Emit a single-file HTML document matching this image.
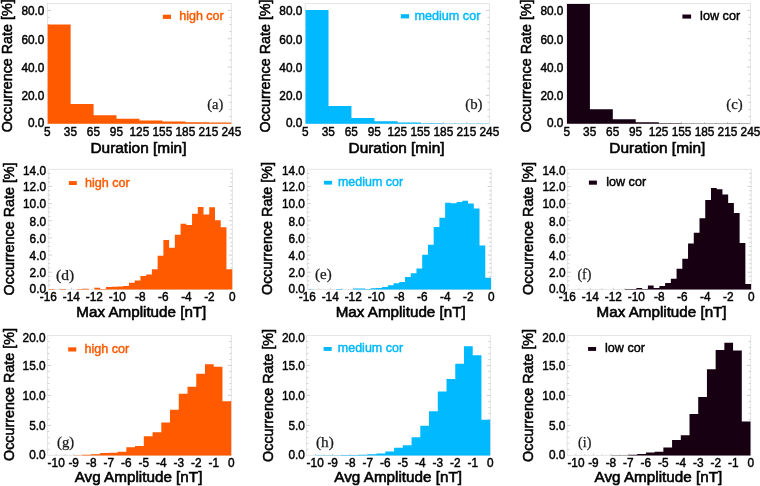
<!DOCTYPE html>
<html><head><meta charset="utf-8"><title>Histograms</title><style>
html,body{margin:0;padding:0;background:#fff;}
body{width:760px;height:486px;overflow:hidden;}
#wrap{will-change:transform;width:760px;height:486px;}
svg{display:block;}
text{font-family:"Liberation Sans",sans-serif;fill:#000;}
.tk{font-size:12.6px;stroke:#000;stroke-width:0.45px;}
.tt{font-size:15.2px;stroke:#000;stroke-width:0.6px;}
.yt{font-size:15.2px;stroke:#000;stroke-width:0.55px;}
.lg{font-size:13.0px;stroke-width:0.45px;}
.pl{font-family:"Liberation Serif",serif;font-size:14.0px;fill:#1a1a1a;stroke:#1a1a1a;stroke-width:0.25px;}
</style></head><body><div id="wrap">
<svg width="760" height="486" viewBox="0 0 760 486">
<rect x="0" y="0" width="760" height="486" fill="#fff"/>
<g id="chart-a">
<rect x="47.40" y="3.50" width="184.00" height="120.15" fill="none" stroke="#e5e5e5" stroke-width="1"/>
<path d="M47.40 116.57h2.00M231.40 116.57h-2.00M47.40 109.49h2.00M231.40 109.49h-2.00M47.40 102.42h2.00M231.40 102.42h-2.00M47.40 95.34h3.60M231.40 95.34h-3.60M47.40 88.26h2.00M231.40 88.26h-2.00M47.40 81.18h2.00M231.40 81.18h-2.00M47.40 74.10h2.00M231.40 74.10h-2.00M47.40 67.03h3.60M231.40 67.03h-3.60M47.40 59.95h2.00M231.40 59.95h-2.00M47.40 52.87h2.00M231.40 52.87h-2.00M47.40 45.79h2.00M231.40 45.79h-2.00M47.40 38.71h3.60M231.40 38.71h-3.60M47.40 31.64h2.00M231.40 31.64h-2.00M47.40 24.56h2.00M231.40 24.56h-2.00M47.40 17.48h2.00M231.40 17.48h-2.00M47.40 10.40h3.60M231.40 10.40h-3.60M58.90 123.65v-1.20M70.40 123.65v-1.80M81.90 123.65v-1.20M93.40 123.65v-1.80M104.90 123.65v-1.20M116.40 123.65v-1.80M127.90 123.65v-1.20M139.40 123.65v-1.80M150.90 123.65v-1.20M162.40 123.65v-1.80M173.90 123.65v-1.20M185.40 123.65v-1.80M196.90 123.65v-1.20M208.40 123.65v-1.80M219.90 123.65v-1.20" stroke="#cfcfcf" stroke-width="1" fill="none"/>
<path d="M47.70 123.75H70.64V24.56H47.70ZM70.64 123.75H93.58V103.97H70.64ZM93.58 123.75H116.51V115.30H93.58ZM116.51 123.75H139.45V118.84H116.51ZM139.45 123.75H162.39V120.39H139.45ZM162.39 123.75H185.33V121.53H162.39ZM185.33 123.75H208.26V122.23H185.33ZM208.26 123.75H231.20V122.59H208.26Z" fill="#FF5A00"/>
<text x="44.45" y="127.16" text-anchor="end" class="tk" textLength="16.47" lengthAdjust="spacingAndGlyphs">0.0</text>
<text x="44.45" y="100.15" text-anchor="end" class="tk" textLength="23.05" lengthAdjust="spacingAndGlyphs">20.0</text>
<text x="44.45" y="71.84" text-anchor="end" class="tk" textLength="23.05" lengthAdjust="spacingAndGlyphs">40.0</text>
<text x="44.45" y="43.52" text-anchor="end" class="tk" textLength="23.05" lengthAdjust="spacingAndGlyphs">60.0</text>
<text x="44.45" y="15.21" text-anchor="end" class="tk" textLength="23.05" lengthAdjust="spacingAndGlyphs">80.0</text>
<text x="47.40" y="135.80" text-anchor="middle" class="tk" textLength="6.59" lengthAdjust="spacingAndGlyphs">5</text>
<text x="70.40" y="135.80" text-anchor="middle" class="tk" textLength="13.17" lengthAdjust="spacingAndGlyphs">35</text>
<text x="93.40" y="135.80" text-anchor="middle" class="tk" textLength="13.17" lengthAdjust="spacingAndGlyphs">65</text>
<text x="116.40" y="135.80" text-anchor="middle" class="tk" textLength="13.17" lengthAdjust="spacingAndGlyphs">95</text>
<text x="139.40" y="135.80" text-anchor="middle" class="tk" textLength="19.76" lengthAdjust="spacingAndGlyphs">125</text>
<text x="162.40" y="135.80" text-anchor="middle" class="tk" textLength="19.76" lengthAdjust="spacingAndGlyphs">155</text>
<text x="185.40" y="135.80" text-anchor="middle" class="tk" textLength="19.76" lengthAdjust="spacingAndGlyphs">185</text>
<text x="208.40" y="135.80" text-anchor="middle" class="tk" textLength="19.76" lengthAdjust="spacingAndGlyphs">215</text>
<text x="231.40" y="135.80" text-anchor="middle" class="tk" textLength="19.76" lengthAdjust="spacingAndGlyphs">245</text>
<text x="138.45" y="152.60" text-anchor="middle" class="tt" textLength="96.0" lengthAdjust="spacingAndGlyphs">Duration [min]</text>
<text transform="translate(11.90 132.30) rotate(-90)" x="0" y="0" class="yt" textLength="133.0" lengthAdjust="spacingAndGlyphs">Occurrence Rate [%]</text>
<rect x="162.90" y="14.70" width="8.10" height="4.20" fill="#FF5A00"/>
<text x="179.20" y="19.70" class="lg" style="fill:#FF5A00;stroke:#FF5A00" textLength="44.5" lengthAdjust="spacingAndGlyphs">high cor</text>
<text x="207.30" y="108.70" class="pl" textLength="16.04" lengthAdjust="spacingAndGlyphs">(a)</text>
</g>
<g id="chart-b">
<rect x="305.25" y="3.50" width="184.15" height="120.15" fill="none" stroke="#e5e5e5" stroke-width="1"/>
<path d="M305.25 116.57h2.00M489.40 116.57h-2.00M305.25 109.49h2.00M489.40 109.49h-2.00M305.25 102.42h2.00M489.40 102.42h-2.00M305.25 95.34h3.60M489.40 95.34h-3.60M305.25 88.26h2.00M489.40 88.26h-2.00M305.25 81.18h2.00M489.40 81.18h-2.00M305.25 74.10h2.00M489.40 74.10h-2.00M305.25 67.03h3.60M489.40 67.03h-3.60M305.25 59.95h2.00M489.40 59.95h-2.00M305.25 52.87h2.00M489.40 52.87h-2.00M305.25 45.79h2.00M489.40 45.79h-2.00M305.25 38.71h3.60M489.40 38.71h-3.60M305.25 31.64h2.00M489.40 31.64h-2.00M305.25 24.56h2.00M489.40 24.56h-2.00M305.25 17.48h2.00M489.40 17.48h-2.00M305.25 10.40h3.60M489.40 10.40h-3.60M316.76 123.65v-1.20M328.27 123.65v-1.80M339.78 123.65v-1.20M351.29 123.65v-1.80M362.80 123.65v-1.20M374.31 123.65v-1.80M385.82 123.65v-1.20M397.32 123.65v-1.80M408.83 123.65v-1.20M420.34 123.65v-1.80M431.85 123.65v-1.20M443.36 123.65v-1.80M454.87 123.65v-1.20M466.38 123.65v-1.80M477.89 123.65v-1.20" stroke="#cfcfcf" stroke-width="1" fill="none"/>
<path d="M305.55 123.75H328.51V10.12H305.55ZM328.51 123.75H351.46V106.10H328.51ZM351.46 123.75H374.42V117.99H351.46ZM374.42 123.75H397.38V121.31H374.42ZM397.38 123.75H420.33V122.45H397.38ZM420.33 123.75H443.29V123.30H420.33ZM443.29 123.75H466.24V123.44H443.29ZM466.24 123.75H489.20V123.51H466.24Z" fill="#00B9FF"/>
<text x="302.35" y="127.16" text-anchor="end" class="tk" textLength="16.47" lengthAdjust="spacingAndGlyphs">0.0</text>
<text x="302.35" y="100.15" text-anchor="end" class="tk" textLength="23.05" lengthAdjust="spacingAndGlyphs">20.0</text>
<text x="302.35" y="71.84" text-anchor="end" class="tk" textLength="23.05" lengthAdjust="spacingAndGlyphs">40.0</text>
<text x="302.35" y="43.52" text-anchor="end" class="tk" textLength="23.05" lengthAdjust="spacingAndGlyphs">60.0</text>
<text x="302.35" y="15.21" text-anchor="end" class="tk" textLength="23.05" lengthAdjust="spacingAndGlyphs">80.0</text>
<text x="305.25" y="135.80" text-anchor="middle" class="tk" textLength="6.59" lengthAdjust="spacingAndGlyphs">5</text>
<text x="328.27" y="135.80" text-anchor="middle" class="tk" textLength="13.17" lengthAdjust="spacingAndGlyphs">35</text>
<text x="351.29" y="135.80" text-anchor="middle" class="tk" textLength="13.17" lengthAdjust="spacingAndGlyphs">65</text>
<text x="374.31" y="135.80" text-anchor="middle" class="tk" textLength="13.17" lengthAdjust="spacingAndGlyphs">95</text>
<text x="397.32" y="135.80" text-anchor="middle" class="tk" textLength="19.76" lengthAdjust="spacingAndGlyphs">125</text>
<text x="420.34" y="135.80" text-anchor="middle" class="tk" textLength="19.76" lengthAdjust="spacingAndGlyphs">155</text>
<text x="443.36" y="135.80" text-anchor="middle" class="tk" textLength="19.76" lengthAdjust="spacingAndGlyphs">185</text>
<text x="466.38" y="135.80" text-anchor="middle" class="tk" textLength="19.76" lengthAdjust="spacingAndGlyphs">215</text>
<text x="489.40" y="135.80" text-anchor="middle" class="tk" textLength="19.76" lengthAdjust="spacingAndGlyphs">245</text>
<text x="396.50" y="152.60" text-anchor="middle" class="tt" textLength="96.0" lengthAdjust="spacingAndGlyphs">Duration [min]</text>
<text transform="translate(269.50 132.40) rotate(-90)" x="0" y="0" class="yt" textLength="133.0" lengthAdjust="spacingAndGlyphs">Occurrence Rate [%]</text>
<rect x="400.80" y="14.20" width="8.30" height="4.20" fill="#00B9FF"/>
<text x="414.50" y="19.50" class="lg" style="fill:#00B9FF;stroke:#00B9FF" textLength="65.9" lengthAdjust="spacingAndGlyphs">medium cor</text>
<text x="465.30" y="108.80" class="pl" textLength="17.24" lengthAdjust="spacingAndGlyphs">(b)</text>
</g>
<g id="chart-c">
<rect x="566.70" y="3.50" width="183.75" height="120.15" fill="none" stroke="#e5e5e5" stroke-width="1"/>
<path d="M566.70 116.57h2.00M750.45 116.57h-2.00M566.70 109.49h2.00M750.45 109.49h-2.00M566.70 102.42h2.00M750.45 102.42h-2.00M566.70 95.34h3.60M750.45 95.34h-3.60M566.70 88.26h2.00M750.45 88.26h-2.00M566.70 81.18h2.00M750.45 81.18h-2.00M566.70 74.10h2.00M750.45 74.10h-2.00M566.70 67.03h3.60M750.45 67.03h-3.60M566.70 59.95h2.00M750.45 59.95h-2.00M566.70 52.87h2.00M750.45 52.87h-2.00M566.70 45.79h2.00M750.45 45.79h-2.00M566.70 38.71h3.60M750.45 38.71h-3.60M566.70 31.64h2.00M750.45 31.64h-2.00M566.70 24.56h2.00M750.45 24.56h-2.00M566.70 17.48h2.00M750.45 17.48h-2.00M566.70 10.40h3.60M750.45 10.40h-3.60M578.18 123.65v-1.20M589.67 123.65v-1.80M601.15 123.65v-1.20M612.64 123.65v-1.80M624.12 123.65v-1.20M635.61 123.65v-1.80M647.09 123.65v-1.20M658.58 123.65v-1.80M670.06 123.65v-1.20M681.54 123.65v-1.80M693.03 123.65v-1.20M704.51 123.65v-1.80M716.00 123.65v-1.20M727.48 123.65v-1.80M738.97 123.65v-1.20" stroke="#cfcfcf" stroke-width="1" fill="none"/>
<path d="M567.00 123.75H589.91V4.00H567.00ZM589.91 123.75H612.81V109.21H589.91ZM612.81 123.75H635.72V119.19H612.81ZM635.72 123.75H658.62V122.23H635.72ZM658.62 123.75H681.53V123.30H658.62ZM681.53 123.75H704.44V123.58H681.53ZM704.44 123.75H727.34V123.61H704.44ZM727.34 123.75H750.25V123.62H727.34Z" fill="#170012"/>
<text x="563.45" y="127.16" text-anchor="end" class="tk" textLength="16.47" lengthAdjust="spacingAndGlyphs">0.0</text>
<text x="563.45" y="100.15" text-anchor="end" class="tk" textLength="23.05" lengthAdjust="spacingAndGlyphs">20.0</text>
<text x="563.45" y="71.84" text-anchor="end" class="tk" textLength="23.05" lengthAdjust="spacingAndGlyphs">40.0</text>
<text x="563.45" y="43.52" text-anchor="end" class="tk" textLength="23.05" lengthAdjust="spacingAndGlyphs">60.0</text>
<text x="563.45" y="15.21" text-anchor="end" class="tk" textLength="23.05" lengthAdjust="spacingAndGlyphs">80.0</text>
<text x="566.70" y="135.80" text-anchor="middle" class="tk" textLength="6.59" lengthAdjust="spacingAndGlyphs">5</text>
<text x="589.67" y="135.80" text-anchor="middle" class="tk" textLength="13.17" lengthAdjust="spacingAndGlyphs">35</text>
<text x="612.64" y="135.80" text-anchor="middle" class="tk" textLength="13.17" lengthAdjust="spacingAndGlyphs">65</text>
<text x="635.61" y="135.80" text-anchor="middle" class="tk" textLength="13.17" lengthAdjust="spacingAndGlyphs">95</text>
<text x="658.58" y="135.80" text-anchor="middle" class="tk" textLength="19.76" lengthAdjust="spacingAndGlyphs">125</text>
<text x="681.54" y="135.80" text-anchor="middle" class="tk" textLength="19.76" lengthAdjust="spacingAndGlyphs">155</text>
<text x="704.51" y="135.80" text-anchor="middle" class="tk" textLength="19.76" lengthAdjust="spacingAndGlyphs">185</text>
<text x="727.48" y="135.80" text-anchor="middle" class="tk" textLength="19.76" lengthAdjust="spacingAndGlyphs">215</text>
<text x="750.45" y="135.80" text-anchor="middle" class="tk" textLength="19.76" lengthAdjust="spacingAndGlyphs">245</text>
<text x="657.30" y="152.60" text-anchor="middle" class="tt" textLength="96.0" lengthAdjust="spacingAndGlyphs">Duration [min]</text>
<text transform="translate(530.70 132.40) rotate(-90)" x="0" y="0" class="yt" textLength="133.0" lengthAdjust="spacingAndGlyphs">Occurrence Rate [%]</text>
<rect x="682.40" y="14.50" width="8.70" height="4.10" fill="#170012"/>
<text x="700.10" y="20.00" class="lg" style="fill:#000;stroke:#000" textLength="40.1" lengthAdjust="spacingAndGlyphs">low cor</text>
<text x="726.30" y="108.65" class="pl" textLength="16.54" lengthAdjust="spacingAndGlyphs">(c)</text>
</g>
<g id="chart-d">
<rect x="48.35" y="169.30" width="184.05" height="120.10" fill="none" stroke="#e5e5e5" stroke-width="1"/>
<path d="M48.35 285.11h2.00M232.40 285.11h-2.00M48.35 280.82h2.00M232.40 280.82h-2.00M48.35 276.53h2.00M232.40 276.53h-2.00M48.35 272.24h3.60M232.40 272.24h-3.60M48.35 267.95h2.00M232.40 267.95h-2.00M48.35 263.66h2.00M232.40 263.66h-2.00M48.35 259.38h2.00M232.40 259.38h-2.00M48.35 255.09h3.60M232.40 255.09h-3.60M48.35 250.80h2.00M232.40 250.80h-2.00M48.35 246.51h2.00M232.40 246.51h-2.00M48.35 242.22h2.00M232.40 242.22h-2.00M48.35 237.93h3.60M232.40 237.93h-3.60M48.35 233.64h2.00M232.40 233.64h-2.00M48.35 229.35h2.00M232.40 229.35h-2.00M48.35 225.06h2.00M232.40 225.06h-2.00M48.35 220.77h3.60M232.40 220.77h-3.60M48.35 216.48h2.00M232.40 216.48h-2.00M48.35 212.19h2.00M232.40 212.19h-2.00M48.35 207.90h2.00M232.40 207.90h-2.00M48.35 203.61h3.60M232.40 203.61h-3.60M48.35 199.32h2.00M232.40 199.32h-2.00M48.35 195.04h2.00M232.40 195.04h-2.00M48.35 190.75h2.00M232.40 190.75h-2.00M48.35 186.46h3.60M232.40 186.46h-3.60M48.35 182.17h2.00M232.40 182.17h-2.00M48.35 177.88h2.00M232.40 177.88h-2.00M48.35 173.59h2.00M232.40 173.59h-2.00M59.85 289.40v-1.20M71.36 289.40v-1.80M82.86 289.40v-1.20M94.36 289.40v-1.80M105.87 289.40v-1.20M117.37 289.40v-1.80M128.87 289.40v-1.20M140.38 289.40v-1.80M151.88 289.40v-1.20M163.38 289.40v-1.80M174.88 289.40v-1.20M186.39 289.40v-1.80M197.89 289.40v-1.20M209.39 289.40v-1.80M220.90 289.40v-1.20" stroke="#cfcfcf" stroke-width="1" fill="none"/>
<path d="M48.65 289.50H54.39V288.97H48.65ZM60.12 289.50H65.86V288.97H60.12ZM77.33 289.50H83.07V288.97H77.33ZM83.07 289.50H88.80V288.71H83.07ZM94.54 289.50H100.27V287.86H94.54ZM100.27 289.50H106.01V288.89H100.27ZM106.01 289.50H111.75V287.08H106.01ZM111.75 289.50H117.48V286.83H111.75ZM117.48 289.50H123.22V286.48H117.48ZM123.22 289.50H128.95V285.97H123.22ZM128.95 289.50H134.69V282.71H128.95ZM134.69 289.50H140.43V280.56H134.69ZM140.43 289.50H146.16V275.93H140.43ZM146.16 289.50H151.90V274.47H146.16ZM151.90 289.50H157.63V269.24H151.90ZM157.63 289.50H163.37V255.69H157.63ZM163.37 289.50H169.10V239.90H163.37ZM169.10 289.50H174.84V247.79H169.10ZM174.84 289.50H180.58V234.84H174.84ZM180.58 289.50H186.31V223.69H180.58ZM186.31 289.50H192.05V225.06H186.31ZM192.05 289.50H197.78V213.74H192.05ZM197.78 289.50H203.52V206.96H197.78ZM203.52 289.50H209.26V214.51H203.52ZM209.26 289.50H214.99V207.13H209.26ZM214.99 289.50H220.73V220.34H214.99ZM220.73 289.50H226.46V227.21H220.73ZM226.46 289.50H232.20V269.24H226.46Z" fill="#FF5A00"/>
<text x="46.05" y="292.91" text-anchor="end" class="tk" textLength="16.47" lengthAdjust="spacingAndGlyphs">0.0</text>
<text x="46.05" y="277.05" text-anchor="end" class="tk" textLength="16.47" lengthAdjust="spacingAndGlyphs">2.0</text>
<text x="46.05" y="259.90" text-anchor="end" class="tk" textLength="16.47" lengthAdjust="spacingAndGlyphs">4.0</text>
<text x="46.05" y="242.74" text-anchor="end" class="tk" textLength="16.47" lengthAdjust="spacingAndGlyphs">6.0</text>
<text x="46.05" y="225.58" text-anchor="end" class="tk" textLength="16.47" lengthAdjust="spacingAndGlyphs">8.0</text>
<text x="46.05" y="208.43" text-anchor="end" class="tk" textLength="23.05" lengthAdjust="spacingAndGlyphs">10.0</text>
<text x="46.05" y="191.27" text-anchor="end" class="tk" textLength="23.05" lengthAdjust="spacingAndGlyphs">12.0</text>
<text x="46.05" y="175.31" text-anchor="end" class="tk" textLength="23.05" lengthAdjust="spacingAndGlyphs">14.0</text>
<text x="48.35" y="300.50" text-anchor="middle" class="tk" textLength="17.12" lengthAdjust="spacingAndGlyphs">-16</text>
<text x="71.36" y="300.50" text-anchor="middle" class="tk" textLength="17.12" lengthAdjust="spacingAndGlyphs">-14</text>
<text x="94.36" y="300.50" text-anchor="middle" class="tk" textLength="17.12" lengthAdjust="spacingAndGlyphs">-12</text>
<text x="117.37" y="300.50" text-anchor="middle" class="tk" textLength="17.12" lengthAdjust="spacingAndGlyphs">-10</text>
<text x="140.38" y="300.50" text-anchor="middle" class="tk" textLength="10.53" lengthAdjust="spacingAndGlyphs">-8</text>
<text x="163.38" y="300.50" text-anchor="middle" class="tk" textLength="10.53" lengthAdjust="spacingAndGlyphs">-6</text>
<text x="186.39" y="300.50" text-anchor="middle" class="tk" textLength="10.53" lengthAdjust="spacingAndGlyphs">-4</text>
<text x="209.39" y="300.50" text-anchor="middle" class="tk" textLength="10.53" lengthAdjust="spacingAndGlyphs">-2</text>
<text x="232.40" y="300.50" text-anchor="middle" class="tk" textLength="6.59" lengthAdjust="spacingAndGlyphs">0</text>
<text x="141.35" y="316.60" text-anchor="middle" class="tt" textLength="130.0" lengthAdjust="spacingAndGlyphs">Max Amplitude [nT]</text>
<text transform="translate(13.60 295.40) rotate(-90)" x="0" y="0" class="yt" textLength="133.0" lengthAdjust="spacingAndGlyphs">Occurrence Rate [%]</text>
<rect x="68.90" y="181.10" width="7.90" height="3.90" fill="#FF5A00"/>
<text x="85.10" y="186.50" class="lg" style="fill:#FF5A00;stroke:#FF5A00" textLength="44.7" lengthAdjust="spacingAndGlyphs">high cor</text>
<text x="56.00" y="279.95" class="pl" textLength="18.14" lengthAdjust="spacingAndGlyphs">(d)</text>
</g>
<g id="chart-e">
<rect x="307.25" y="169.30" width="183.95" height="120.10" fill="none" stroke="#e5e5e5" stroke-width="1"/>
<path d="M307.25 285.11h2.00M491.20 285.11h-2.00M307.25 280.82h2.00M491.20 280.82h-2.00M307.25 276.53h2.00M491.20 276.53h-2.00M307.25 272.24h3.60M491.20 272.24h-3.60M307.25 267.95h2.00M491.20 267.95h-2.00M307.25 263.66h2.00M491.20 263.66h-2.00M307.25 259.38h2.00M491.20 259.38h-2.00M307.25 255.09h3.60M491.20 255.09h-3.60M307.25 250.80h2.00M491.20 250.80h-2.00M307.25 246.51h2.00M491.20 246.51h-2.00M307.25 242.22h2.00M491.20 242.22h-2.00M307.25 237.93h3.60M491.20 237.93h-3.60M307.25 233.64h2.00M491.20 233.64h-2.00M307.25 229.35h2.00M491.20 229.35h-2.00M307.25 225.06h2.00M491.20 225.06h-2.00M307.25 220.77h3.60M491.20 220.77h-3.60M307.25 216.48h2.00M491.20 216.48h-2.00M307.25 212.19h2.00M491.20 212.19h-2.00M307.25 207.90h2.00M491.20 207.90h-2.00M307.25 203.61h3.60M491.20 203.61h-3.60M307.25 199.32h2.00M491.20 199.32h-2.00M307.25 195.04h2.00M491.20 195.04h-2.00M307.25 190.75h2.00M491.20 190.75h-2.00M307.25 186.46h3.60M491.20 186.46h-3.60M307.25 182.17h2.00M491.20 182.17h-2.00M307.25 177.88h2.00M491.20 177.88h-2.00M307.25 173.59h2.00M491.20 173.59h-2.00M318.75 289.40v-1.20M330.24 289.40v-1.80M341.74 289.40v-1.20M353.24 289.40v-1.80M364.73 289.40v-1.20M376.23 289.40v-1.80M387.73 289.40v-1.20M399.23 289.40v-1.80M410.72 289.40v-1.20M422.22 289.40v-1.80M433.72 289.40v-1.20M445.21 289.40v-1.80M456.71 289.40v-1.20M468.21 289.40v-1.80M479.70 289.40v-1.20" stroke="#cfcfcf" stroke-width="1" fill="none"/>
<path d="M307.55 289.50H313.28V289.23H307.55ZM336.21 289.50H341.95V288.97H336.21ZM353.41 289.50H359.15V288.54H353.41ZM359.15 289.50H364.88V288.54H359.15ZM364.88 289.50H370.61V288.97H364.88ZM370.61 289.50H376.34V288.37H370.61ZM376.34 289.50H382.08V288.11H376.34ZM382.08 289.50H387.81V287.08H382.08ZM387.81 289.50H393.54V285.37H387.81ZM393.54 289.50H399.27V283.31H393.54ZM399.27 289.50H405.01V281.94H399.27ZM405.01 289.50H410.74V277.05H405.01ZM410.74 289.50H416.47V273.19H410.74ZM416.47 289.50H422.21V268.55H416.47ZM422.21 289.50H427.94V254.83H422.21ZM427.94 289.50H433.67V244.79H427.94ZM433.67 289.50H439.40V226.95H433.67ZM439.40 289.50H445.14V217.77H439.40ZM445.14 289.50H450.87V202.76H445.14ZM450.87 289.50H456.60V203.19H450.87ZM456.60 289.50H462.34V201.90H456.60ZM462.34 289.50H468.07V200.78H462.34ZM468.07 289.50H473.80V203.61H468.07ZM473.80 289.50H479.53V208.59H473.80ZM479.53 289.50H485.27V245.48H479.53ZM485.27 289.50H491.00V277.65H485.27Z" fill="#00B9FF"/>
<text x="304.95" y="292.91" text-anchor="end" class="tk" textLength="16.47" lengthAdjust="spacingAndGlyphs">0.0</text>
<text x="304.95" y="277.05" text-anchor="end" class="tk" textLength="16.47" lengthAdjust="spacingAndGlyphs">2.0</text>
<text x="304.95" y="259.90" text-anchor="end" class="tk" textLength="16.47" lengthAdjust="spacingAndGlyphs">4.0</text>
<text x="304.95" y="242.74" text-anchor="end" class="tk" textLength="16.47" lengthAdjust="spacingAndGlyphs">6.0</text>
<text x="304.95" y="225.58" text-anchor="end" class="tk" textLength="16.47" lengthAdjust="spacingAndGlyphs">8.0</text>
<text x="304.95" y="208.43" text-anchor="end" class="tk" textLength="23.05" lengthAdjust="spacingAndGlyphs">10.0</text>
<text x="304.95" y="191.27" text-anchor="end" class="tk" textLength="23.05" lengthAdjust="spacingAndGlyphs">12.0</text>
<text x="304.95" y="175.31" text-anchor="end" class="tk" textLength="23.05" lengthAdjust="spacingAndGlyphs">14.0</text>
<text x="307.25" y="300.50" text-anchor="middle" class="tk" textLength="17.12" lengthAdjust="spacingAndGlyphs">-16</text>
<text x="330.24" y="300.50" text-anchor="middle" class="tk" textLength="17.12" lengthAdjust="spacingAndGlyphs">-14</text>
<text x="353.24" y="300.50" text-anchor="middle" class="tk" textLength="17.12" lengthAdjust="spacingAndGlyphs">-12</text>
<text x="376.23" y="300.50" text-anchor="middle" class="tk" textLength="17.12" lengthAdjust="spacingAndGlyphs">-10</text>
<text x="399.23" y="300.50" text-anchor="middle" class="tk" textLength="10.53" lengthAdjust="spacingAndGlyphs">-8</text>
<text x="422.22" y="300.50" text-anchor="middle" class="tk" textLength="10.53" lengthAdjust="spacingAndGlyphs">-6</text>
<text x="445.21" y="300.50" text-anchor="middle" class="tk" textLength="10.53" lengthAdjust="spacingAndGlyphs">-4</text>
<text x="468.21" y="300.50" text-anchor="middle" class="tk" textLength="10.53" lengthAdjust="spacingAndGlyphs">-2</text>
<text x="491.20" y="300.50" text-anchor="middle" class="tk" textLength="6.59" lengthAdjust="spacingAndGlyphs">0</text>
<text x="400.70" y="316.60" text-anchor="middle" class="tt" textLength="130.0" lengthAdjust="spacingAndGlyphs">Max Amplitude [nT]</text>
<text transform="translate(272.40 295.00) rotate(-90)" x="0" y="0" class="yt" textLength="133.0" lengthAdjust="spacingAndGlyphs">Occurrence Rate [%]</text>
<rect x="323.90" y="180.80" width="8.20" height="3.80" fill="#00B9FF"/>
<text x="337.90" y="186.40" class="lg" style="fill:#00B9FF;stroke:#00B9FF" textLength="65.3" lengthAdjust="spacingAndGlyphs">medium cor</text>
<text x="315.10" y="279.25" class="pl" textLength="16.64" lengthAdjust="spacingAndGlyphs">(e)</text>
</g>
<g id="chart-f">
<rect x="567.35" y="169.30" width="183.95" height="120.10" fill="none" stroke="#e5e5e5" stroke-width="1"/>
<path d="M567.35 285.11h2.00M751.30 285.11h-2.00M567.35 280.82h2.00M751.30 280.82h-2.00M567.35 276.53h2.00M751.30 276.53h-2.00M567.35 272.24h3.60M751.30 272.24h-3.60M567.35 267.95h2.00M751.30 267.95h-2.00M567.35 263.66h2.00M751.30 263.66h-2.00M567.35 259.38h2.00M751.30 259.38h-2.00M567.35 255.09h3.60M751.30 255.09h-3.60M567.35 250.80h2.00M751.30 250.80h-2.00M567.35 246.51h2.00M751.30 246.51h-2.00M567.35 242.22h2.00M751.30 242.22h-2.00M567.35 237.93h3.60M751.30 237.93h-3.60M567.35 233.64h2.00M751.30 233.64h-2.00M567.35 229.35h2.00M751.30 229.35h-2.00M567.35 225.06h2.00M751.30 225.06h-2.00M567.35 220.77h3.60M751.30 220.77h-3.60M567.35 216.48h2.00M751.30 216.48h-2.00M567.35 212.19h2.00M751.30 212.19h-2.00M567.35 207.90h2.00M751.30 207.90h-2.00M567.35 203.61h3.60M751.30 203.61h-3.60M567.35 199.32h2.00M751.30 199.32h-2.00M567.35 195.04h2.00M751.30 195.04h-2.00M567.35 190.75h2.00M751.30 190.75h-2.00M567.35 186.46h3.60M751.30 186.46h-3.60M567.35 182.17h2.00M751.30 182.17h-2.00M567.35 177.88h2.00M751.30 177.88h-2.00M567.35 173.59h2.00M751.30 173.59h-2.00M578.85 289.40v-1.20M590.34 289.40v-1.80M601.84 289.40v-1.20M613.34 289.40v-1.80M624.83 289.40v-1.20M636.33 289.40v-1.80M647.83 289.40v-1.20M659.33 289.40v-1.80M670.82 289.40v-1.20M682.32 289.40v-1.80M693.82 289.40v-1.20M705.31 289.40v-1.80M716.81 289.40v-1.20M728.31 289.40v-1.80M739.80 289.40v-1.20" stroke="#cfcfcf" stroke-width="1" fill="none"/>
<path d="M624.98 289.50H630.71V288.97H624.98ZM630.71 289.50H636.44V288.97H630.71ZM636.44 289.50H642.18V288.11H636.44ZM642.18 289.50H647.91V288.97H642.18ZM647.91 289.50H653.64V285.54H647.91ZM653.64 289.50H659.38V288.11H653.64ZM659.38 289.50H665.11V285.97H659.38ZM665.11 289.50H670.84V283.05H665.11ZM670.84 289.50H676.57V278.85H670.84ZM676.57 289.50H682.31V268.73H676.57ZM682.31 289.50H688.04V258.77H682.31ZM688.04 289.50H693.77V243.42H688.04ZM693.77 289.50H699.50V232.87H693.77ZM699.50 289.50H705.24V218.20H699.50ZM705.24 289.50H710.97V200.01H705.24ZM710.97 289.50H716.70V188.09H710.97ZM716.70 289.50H722.44V189.20H716.70ZM722.44 289.50H728.17V194.61H722.44ZM728.17 289.50H733.90V202.93H728.17ZM733.90 289.50H739.63V212.88H733.90ZM739.63 289.50H745.37V243.08H739.63ZM745.37 289.50H751.10V283.91H745.37Z" fill="#170012"/>
<text x="565.55" y="292.91" text-anchor="end" class="tk" textLength="16.47" lengthAdjust="spacingAndGlyphs">0.0</text>
<text x="565.55" y="277.05" text-anchor="end" class="tk" textLength="16.47" lengthAdjust="spacingAndGlyphs">2.0</text>
<text x="565.55" y="259.90" text-anchor="end" class="tk" textLength="16.47" lengthAdjust="spacingAndGlyphs">4.0</text>
<text x="565.55" y="242.74" text-anchor="end" class="tk" textLength="16.47" lengthAdjust="spacingAndGlyphs">6.0</text>
<text x="565.55" y="225.58" text-anchor="end" class="tk" textLength="16.47" lengthAdjust="spacingAndGlyphs">8.0</text>
<text x="565.55" y="208.43" text-anchor="end" class="tk" textLength="23.05" lengthAdjust="spacingAndGlyphs">10.0</text>
<text x="565.55" y="191.27" text-anchor="end" class="tk" textLength="23.05" lengthAdjust="spacingAndGlyphs">12.0</text>
<text x="565.55" y="175.31" text-anchor="end" class="tk" textLength="23.05" lengthAdjust="spacingAndGlyphs">14.0</text>
<text x="567.35" y="300.50" text-anchor="middle" class="tk" textLength="17.12" lengthAdjust="spacingAndGlyphs">-16</text>
<text x="590.34" y="300.50" text-anchor="middle" class="tk" textLength="17.12" lengthAdjust="spacingAndGlyphs">-14</text>
<text x="613.34" y="300.50" text-anchor="middle" class="tk" textLength="17.12" lengthAdjust="spacingAndGlyphs">-12</text>
<text x="636.33" y="300.50" text-anchor="middle" class="tk" textLength="17.12" lengthAdjust="spacingAndGlyphs">-10</text>
<text x="659.33" y="300.50" text-anchor="middle" class="tk" textLength="10.53" lengthAdjust="spacingAndGlyphs">-8</text>
<text x="682.32" y="300.50" text-anchor="middle" class="tk" textLength="10.53" lengthAdjust="spacingAndGlyphs">-6</text>
<text x="705.31" y="300.50" text-anchor="middle" class="tk" textLength="10.53" lengthAdjust="spacingAndGlyphs">-4</text>
<text x="728.31" y="300.50" text-anchor="middle" class="tk" textLength="10.53" lengthAdjust="spacingAndGlyphs">-2</text>
<text x="751.30" y="300.50" text-anchor="middle" class="tk" textLength="6.59" lengthAdjust="spacingAndGlyphs">0</text>
<text x="661.60" y="316.60" text-anchor="middle" class="tt" textLength="130.0" lengthAdjust="spacingAndGlyphs">Max Amplitude [nT]</text>
<text transform="translate(533.00 295.00) rotate(-90)" x="0" y="0" class="yt" textLength="133.0" lengthAdjust="spacingAndGlyphs">Occurrence Rate [%]</text>
<rect x="588.90" y="180.60" width="8.00" height="4.10" fill="#170012"/>
<text x="606.20" y="186.40" class="lg" style="fill:#000;stroke:#000" textLength="39.9" lengthAdjust="spacingAndGlyphs">low cor</text>
<text x="577.40" y="279.25" class="pl" textLength="13.94" lengthAdjust="spacingAndGlyphs">(f)</text>
</g>
<g id="chart-g">
<rect x="47.40" y="335.50" width="184.00" height="119.85" fill="none" stroke="#e5e5e5" stroke-width="1"/>
<path d="M47.40 449.36h2.00M231.40 449.36h-2.00M47.40 443.37h2.00M231.40 443.37h-2.00M47.40 437.37h2.00M231.40 437.37h-2.00M47.40 431.38h2.00M231.40 431.38h-2.00M47.40 425.39h3.60M231.40 425.39h-3.60M47.40 419.39h2.00M231.40 419.39h-2.00M47.40 413.40h2.00M231.40 413.40h-2.00M47.40 407.41h2.00M231.40 407.41h-2.00M47.40 401.42h2.00M231.40 401.42h-2.00M47.40 395.43h3.60M231.40 395.43h-3.60M47.40 389.43h2.00M231.40 389.43h-2.00M47.40 383.44h2.00M231.40 383.44h-2.00M47.40 377.45h2.00M231.40 377.45h-2.00M47.40 371.45h2.00M231.40 371.45h-2.00M47.40 365.46h3.60M231.40 365.46h-3.60M47.40 359.47h2.00M231.40 359.47h-2.00M47.40 353.48h2.00M231.40 353.48h-2.00M47.40 347.49h2.00M231.40 347.49h-2.00M47.40 341.49h2.00M231.40 341.49h-2.00M56.16 455.35v-1.80M64.92 455.35v-1.20M73.69 455.35v-1.80M82.45 455.35v-1.20M91.21 455.35v-1.80M99.97 455.35v-1.20M108.73 455.35v-1.80M117.50 455.35v-1.20M126.26 455.35v-1.80M135.02 455.35v-1.20M143.78 455.35v-1.80M152.54 455.35v-1.20M161.30 455.35v-1.80M170.07 455.35v-1.20M178.83 455.35v-1.80M187.59 455.35v-1.20M196.35 455.35v-1.80M205.11 455.35v-1.20M213.88 455.35v-1.80M222.64 455.35v-1.20" stroke="#cfcfcf" stroke-width="1" fill="none"/>
<path d="M73.91 455.45H82.65V455.17H73.91ZM82.65 455.45H91.39V454.87H82.65ZM91.39 455.45H100.13V454.15H91.39ZM100.13 455.45H108.87V453.07H100.13ZM108.87 455.45H117.60V452.77H108.87ZM117.60 455.45H126.34V451.75H117.60ZM126.34 455.45H135.08V447.14H126.34ZM135.08 455.45H143.82V446.06H135.08ZM143.82 455.45H152.56V436.17H143.82ZM152.56 455.45H161.30V432.16H152.56ZM161.30 455.45H170.03V422.39H161.30ZM170.03 455.45H178.77V409.81H170.03ZM178.77 455.45H187.51V393.81H178.77ZM187.51 455.45H196.25V386.74H187.51ZM196.25 455.45H204.99V373.67H196.25ZM204.99 455.45H213.72V364.26H204.99ZM213.72 455.45H222.46V366.78H213.72ZM222.46 455.45H231.20V401.30H222.46Z" fill="#FF5A00"/>
<text x="45.65" y="458.86" text-anchor="end" class="tk" textLength="16.47" lengthAdjust="spacingAndGlyphs">0.0</text>
<text x="45.65" y="430.20" text-anchor="end" class="tk" textLength="16.47" lengthAdjust="spacingAndGlyphs">5.0</text>
<text x="45.65" y="400.24" text-anchor="end" class="tk" textLength="23.05" lengthAdjust="spacingAndGlyphs">10.0</text>
<text x="45.65" y="370.27" text-anchor="end" class="tk" textLength="23.05" lengthAdjust="spacingAndGlyphs">15.0</text>
<text x="45.65" y="341.51" text-anchor="end" class="tk" textLength="23.05" lengthAdjust="spacingAndGlyphs">20.0</text>
<text x="56.16" y="466.60" text-anchor="middle" class="tk" textLength="17.12" lengthAdjust="spacingAndGlyphs">-10</text>
<text x="73.69" y="466.60" text-anchor="middle" class="tk" textLength="10.53" lengthAdjust="spacingAndGlyphs">-9</text>
<text x="91.21" y="466.60" text-anchor="middle" class="tk" textLength="10.53" lengthAdjust="spacingAndGlyphs">-8</text>
<text x="108.73" y="466.60" text-anchor="middle" class="tk" textLength="10.53" lengthAdjust="spacingAndGlyphs">-7</text>
<text x="126.26" y="466.60" text-anchor="middle" class="tk" textLength="10.53" lengthAdjust="spacingAndGlyphs">-6</text>
<text x="143.78" y="466.60" text-anchor="middle" class="tk" textLength="10.53" lengthAdjust="spacingAndGlyphs">-5</text>
<text x="161.30" y="466.60" text-anchor="middle" class="tk" textLength="10.53" lengthAdjust="spacingAndGlyphs">-4</text>
<text x="178.83" y="466.60" text-anchor="middle" class="tk" textLength="10.53" lengthAdjust="spacingAndGlyphs">-3</text>
<text x="196.35" y="466.60" text-anchor="middle" class="tk" textLength="10.53" lengthAdjust="spacingAndGlyphs">-2</text>
<text x="213.88" y="466.60" text-anchor="middle" class="tk" textLength="10.53" lengthAdjust="spacingAndGlyphs">-1</text>
<text x="231.40" y="466.60" text-anchor="middle" class="tk" textLength="6.59" lengthAdjust="spacingAndGlyphs">0</text>
<text x="138.55" y="482.10" text-anchor="middle" class="tt" textLength="127.7" lengthAdjust="spacingAndGlyphs">Avg Amplitude [nT]</text>
<text transform="translate(13.60 461.00) rotate(-90)" x="0" y="0" class="yt" textLength="133.0" lengthAdjust="spacingAndGlyphs">Occurrence Rate [%]</text>
<rect x="68.20" y="347.30" width="8.10" height="4.20" fill="#FF5A00"/>
<text x="84.50" y="352.60" class="lg" style="fill:#FF5A00;stroke:#FF5A00" textLength="44.8" lengthAdjust="spacingAndGlyphs">high cor</text>
<text x="57.00" y="447.45" class="pl" textLength="17.14" lengthAdjust="spacingAndGlyphs">(g)</text>
</g>
<g id="chart-h">
<rect x="306.40" y="335.50" width="184.00" height="119.85" fill="none" stroke="#e5e5e5" stroke-width="1"/>
<path d="M306.40 449.36h2.00M490.40 449.36h-2.00M306.40 443.37h2.00M490.40 443.37h-2.00M306.40 437.37h2.00M490.40 437.37h-2.00M306.40 431.38h2.00M490.40 431.38h-2.00M306.40 425.39h3.60M490.40 425.39h-3.60M306.40 419.39h2.00M490.40 419.39h-2.00M306.40 413.40h2.00M490.40 413.40h-2.00M306.40 407.41h2.00M490.40 407.41h-2.00M306.40 401.42h2.00M490.40 401.42h-2.00M306.40 395.43h3.60M490.40 395.43h-3.60M306.40 389.43h2.00M490.40 389.43h-2.00M306.40 383.44h2.00M490.40 383.44h-2.00M306.40 377.45h2.00M490.40 377.45h-2.00M306.40 371.45h2.00M490.40 371.45h-2.00M306.40 365.46h3.60M490.40 365.46h-3.60M306.40 359.47h2.00M490.40 359.47h-2.00M306.40 353.48h2.00M490.40 353.48h-2.00M306.40 347.49h2.00M490.40 347.49h-2.00M306.40 341.49h2.00M490.40 341.49h-2.00M315.16 455.35v-1.80M323.92 455.35v-1.20M332.69 455.35v-1.80M341.45 455.35v-1.20M350.21 455.35v-1.80M358.97 455.35v-1.20M367.73 455.35v-1.80M376.50 455.35v-1.20M385.26 455.35v-1.80M394.02 455.35v-1.20M402.78 455.35v-1.80M411.54 455.35v-1.20M420.30 455.35v-1.80M429.07 455.35v-1.20M437.83 455.35v-1.80M446.59 455.35v-1.20M455.35 455.35v-1.80M464.11 455.35v-1.20M472.88 455.35v-1.80M481.64 455.35v-1.20" stroke="#cfcfcf" stroke-width="1" fill="none"/>
<path d="M315.44 455.45H324.18V455.23H315.44ZM324.18 455.45H332.91V455.23H324.18ZM332.91 455.45H341.65V455.17H332.91ZM341.65 455.45H350.39V455.05H341.65ZM350.39 455.45H359.13V455.05H350.39ZM359.13 455.45H367.87V454.75H359.13ZM367.87 455.45H376.60V454.15H367.87ZM376.60 455.45H385.34V453.55H376.60ZM385.34 455.45H394.08V451.57H385.34ZM394.08 455.45H402.82V447.86H394.08ZM402.82 455.45H411.56V445.28H402.82ZM411.56 455.45H420.30V437.37H411.56ZM420.30 455.45H429.03V425.87H420.30ZM429.03 455.45H437.77V411.13H429.03ZM437.77 455.45H446.51V391.53H437.77ZM446.51 455.45H455.25V379.07H446.51ZM455.25 455.45H463.99V363.72H455.25ZM463.99 455.45H472.72V346.29H463.99ZM472.72 455.45H481.46V355.28H472.72ZM481.46 455.45H490.20V419.69H481.46Z" fill="#00B9FF"/>
<text x="304.95" y="458.86" text-anchor="end" class="tk" textLength="16.47" lengthAdjust="spacingAndGlyphs">0.0</text>
<text x="304.95" y="430.20" text-anchor="end" class="tk" textLength="16.47" lengthAdjust="spacingAndGlyphs">5.0</text>
<text x="304.95" y="400.24" text-anchor="end" class="tk" textLength="23.05" lengthAdjust="spacingAndGlyphs">10.0</text>
<text x="304.95" y="370.27" text-anchor="end" class="tk" textLength="23.05" lengthAdjust="spacingAndGlyphs">15.0</text>
<text x="304.95" y="341.51" text-anchor="end" class="tk" textLength="23.05" lengthAdjust="spacingAndGlyphs">20.0</text>
<text x="315.16" y="466.60" text-anchor="middle" class="tk" textLength="17.12" lengthAdjust="spacingAndGlyphs">-10</text>
<text x="332.69" y="466.60" text-anchor="middle" class="tk" textLength="10.53" lengthAdjust="spacingAndGlyphs">-9</text>
<text x="350.21" y="466.60" text-anchor="middle" class="tk" textLength="10.53" lengthAdjust="spacingAndGlyphs">-8</text>
<text x="367.73" y="466.60" text-anchor="middle" class="tk" textLength="10.53" lengthAdjust="spacingAndGlyphs">-7</text>
<text x="385.26" y="466.60" text-anchor="middle" class="tk" textLength="10.53" lengthAdjust="spacingAndGlyphs">-6</text>
<text x="402.78" y="466.60" text-anchor="middle" class="tk" textLength="10.53" lengthAdjust="spacingAndGlyphs">-5</text>
<text x="420.30" y="466.60" text-anchor="middle" class="tk" textLength="10.53" lengthAdjust="spacingAndGlyphs">-4</text>
<text x="437.83" y="466.60" text-anchor="middle" class="tk" textLength="10.53" lengthAdjust="spacingAndGlyphs">-3</text>
<text x="455.35" y="466.60" text-anchor="middle" class="tk" textLength="10.53" lengthAdjust="spacingAndGlyphs">-2</text>
<text x="472.88" y="466.60" text-anchor="middle" class="tk" textLength="10.53" lengthAdjust="spacingAndGlyphs">-1</text>
<text x="490.40" y="466.60" text-anchor="middle" class="tk" textLength="6.59" lengthAdjust="spacingAndGlyphs">0</text>
<text x="398.20" y="482.10" text-anchor="middle" class="tt" textLength="127.7" lengthAdjust="spacingAndGlyphs">Avg Amplitude [nT]</text>
<text transform="translate(272.80 461.90) rotate(-90)" x="0" y="0" class="yt" textLength="133.0" lengthAdjust="spacingAndGlyphs">Occurrence Rate [%]</text>
<rect x="323.60" y="347.00" width="8.10" height="3.90" fill="#00B9FF"/>
<text x="337.80" y="352.40" class="lg" style="fill:#00B9FF;stroke:#00B9FF" textLength="65.3" lengthAdjust="spacingAndGlyphs">medium cor</text>
<text x="315.90" y="447.10" class="pl" textLength="17.84" lengthAdjust="spacingAndGlyphs">(h)</text>
</g>
<g id="chart-i">
<rect x="567.20" y="335.50" width="183.50" height="119.85" fill="none" stroke="#e5e5e5" stroke-width="1"/>
<path d="M567.20 449.36h2.00M750.70 449.36h-2.00M567.20 443.37h2.00M750.70 443.37h-2.00M567.20 437.37h2.00M750.70 437.37h-2.00M567.20 431.38h2.00M750.70 431.38h-2.00M567.20 425.39h3.60M750.70 425.39h-3.60M567.20 419.39h2.00M750.70 419.39h-2.00M567.20 413.40h2.00M750.70 413.40h-2.00M567.20 407.41h2.00M750.70 407.41h-2.00M567.20 401.42h2.00M750.70 401.42h-2.00M567.20 395.43h3.60M750.70 395.43h-3.60M567.20 389.43h2.00M750.70 389.43h-2.00M567.20 383.44h2.00M750.70 383.44h-2.00M567.20 377.45h2.00M750.70 377.45h-2.00M567.20 371.45h2.00M750.70 371.45h-2.00M567.20 365.46h3.60M750.70 365.46h-3.60M567.20 359.47h2.00M750.70 359.47h-2.00M567.20 353.48h2.00M750.70 353.48h-2.00M567.20 347.49h2.00M750.70 347.49h-2.00M567.20 341.49h2.00M750.70 341.49h-2.00M575.94 455.35v-1.80M584.68 455.35v-1.20M593.41 455.35v-1.80M602.15 455.35v-1.20M610.89 455.35v-1.80M619.63 455.35v-1.20M628.37 455.35v-1.80M637.10 455.35v-1.20M645.84 455.35v-1.80M654.58 455.35v-1.20M663.32 455.35v-1.80M672.06 455.35v-1.20M680.80 455.35v-1.80M689.53 455.35v-1.20M698.27 455.35v-1.80M707.01 455.35v-1.20M715.75 455.35v-1.80M724.49 455.35v-1.20M733.22 455.35v-1.80M741.96 455.35v-1.20" stroke="#cfcfcf" stroke-width="1" fill="none"/>
<path d="M611.07 455.45H619.79V455.23H611.07ZM619.79 455.45H628.50V455.23H619.79ZM628.50 455.45H637.21V454.87H628.50ZM637.21 455.45H645.93V454.03H637.21ZM645.93 455.45H654.64V452.47H645.93ZM654.64 455.45H663.36V451.87H654.64ZM663.36 455.45H672.07V447.44H663.36ZM672.07 455.45H680.79V439.95H672.07ZM680.79 455.45H689.50V435.16H680.79ZM689.50 455.45H698.21V414.12H689.50ZM698.21 455.45H706.93V397.10H698.21ZM706.93 455.45H715.64V369.18H706.93ZM715.64 455.45H724.36V349.88H715.64ZM724.36 455.45H733.07V342.87H724.36ZM733.07 455.45H741.79V350.48H733.07ZM741.79 455.45H750.50V421.61H741.79Z" fill="#170012"/>
<text x="565.35" y="458.86" text-anchor="end" class="tk" textLength="16.47" lengthAdjust="spacingAndGlyphs">0.0</text>
<text x="565.35" y="430.20" text-anchor="end" class="tk" textLength="16.47" lengthAdjust="spacingAndGlyphs">5.0</text>
<text x="565.35" y="400.24" text-anchor="end" class="tk" textLength="23.05" lengthAdjust="spacingAndGlyphs">10.0</text>
<text x="565.35" y="370.27" text-anchor="end" class="tk" textLength="23.05" lengthAdjust="spacingAndGlyphs">15.0</text>
<text x="565.35" y="341.51" text-anchor="end" class="tk" textLength="23.05" lengthAdjust="spacingAndGlyphs">20.0</text>
<text x="575.94" y="466.60" text-anchor="middle" class="tk" textLength="17.12" lengthAdjust="spacingAndGlyphs">-10</text>
<text x="593.41" y="466.60" text-anchor="middle" class="tk" textLength="10.53" lengthAdjust="spacingAndGlyphs">-9</text>
<text x="610.89" y="466.60" text-anchor="middle" class="tk" textLength="10.53" lengthAdjust="spacingAndGlyphs">-8</text>
<text x="628.37" y="466.60" text-anchor="middle" class="tk" textLength="10.53" lengthAdjust="spacingAndGlyphs">-7</text>
<text x="645.84" y="466.60" text-anchor="middle" class="tk" textLength="10.53" lengthAdjust="spacingAndGlyphs">-6</text>
<text x="663.32" y="466.60" text-anchor="middle" class="tk" textLength="10.53" lengthAdjust="spacingAndGlyphs">-5</text>
<text x="680.80" y="466.60" text-anchor="middle" class="tk" textLength="10.53" lengthAdjust="spacingAndGlyphs">-4</text>
<text x="698.27" y="466.60" text-anchor="middle" class="tk" textLength="10.53" lengthAdjust="spacingAndGlyphs">-3</text>
<text x="715.75" y="466.60" text-anchor="middle" class="tk" textLength="10.53" lengthAdjust="spacingAndGlyphs">-2</text>
<text x="733.22" y="466.60" text-anchor="middle" class="tk" textLength="10.53" lengthAdjust="spacingAndGlyphs">-1</text>
<text x="750.70" y="466.60" text-anchor="middle" class="tk" textLength="6.59" lengthAdjust="spacingAndGlyphs">0</text>
<text x="658.40" y="482.10" text-anchor="middle" class="tt" textLength="127.7" lengthAdjust="spacingAndGlyphs">Avg Amplitude [nT]</text>
<text transform="translate(533.30 461.90) rotate(-90)" x="0" y="0" class="yt" textLength="133.0" lengthAdjust="spacingAndGlyphs">Occurrence Rate [%]</text>
<rect x="588.10" y="347.00" width="8.00" height="3.90" fill="#170012"/>
<text x="605.00" y="352.40" class="lg" style="fill:#000;stroke:#000" textLength="39.9" lengthAdjust="spacingAndGlyphs">low cor</text>
<text x="578.10" y="446.65" class="pl" textLength="13.24" lengthAdjust="spacingAndGlyphs">(i)</text>
</g>
</svg>
</div></body></html>
